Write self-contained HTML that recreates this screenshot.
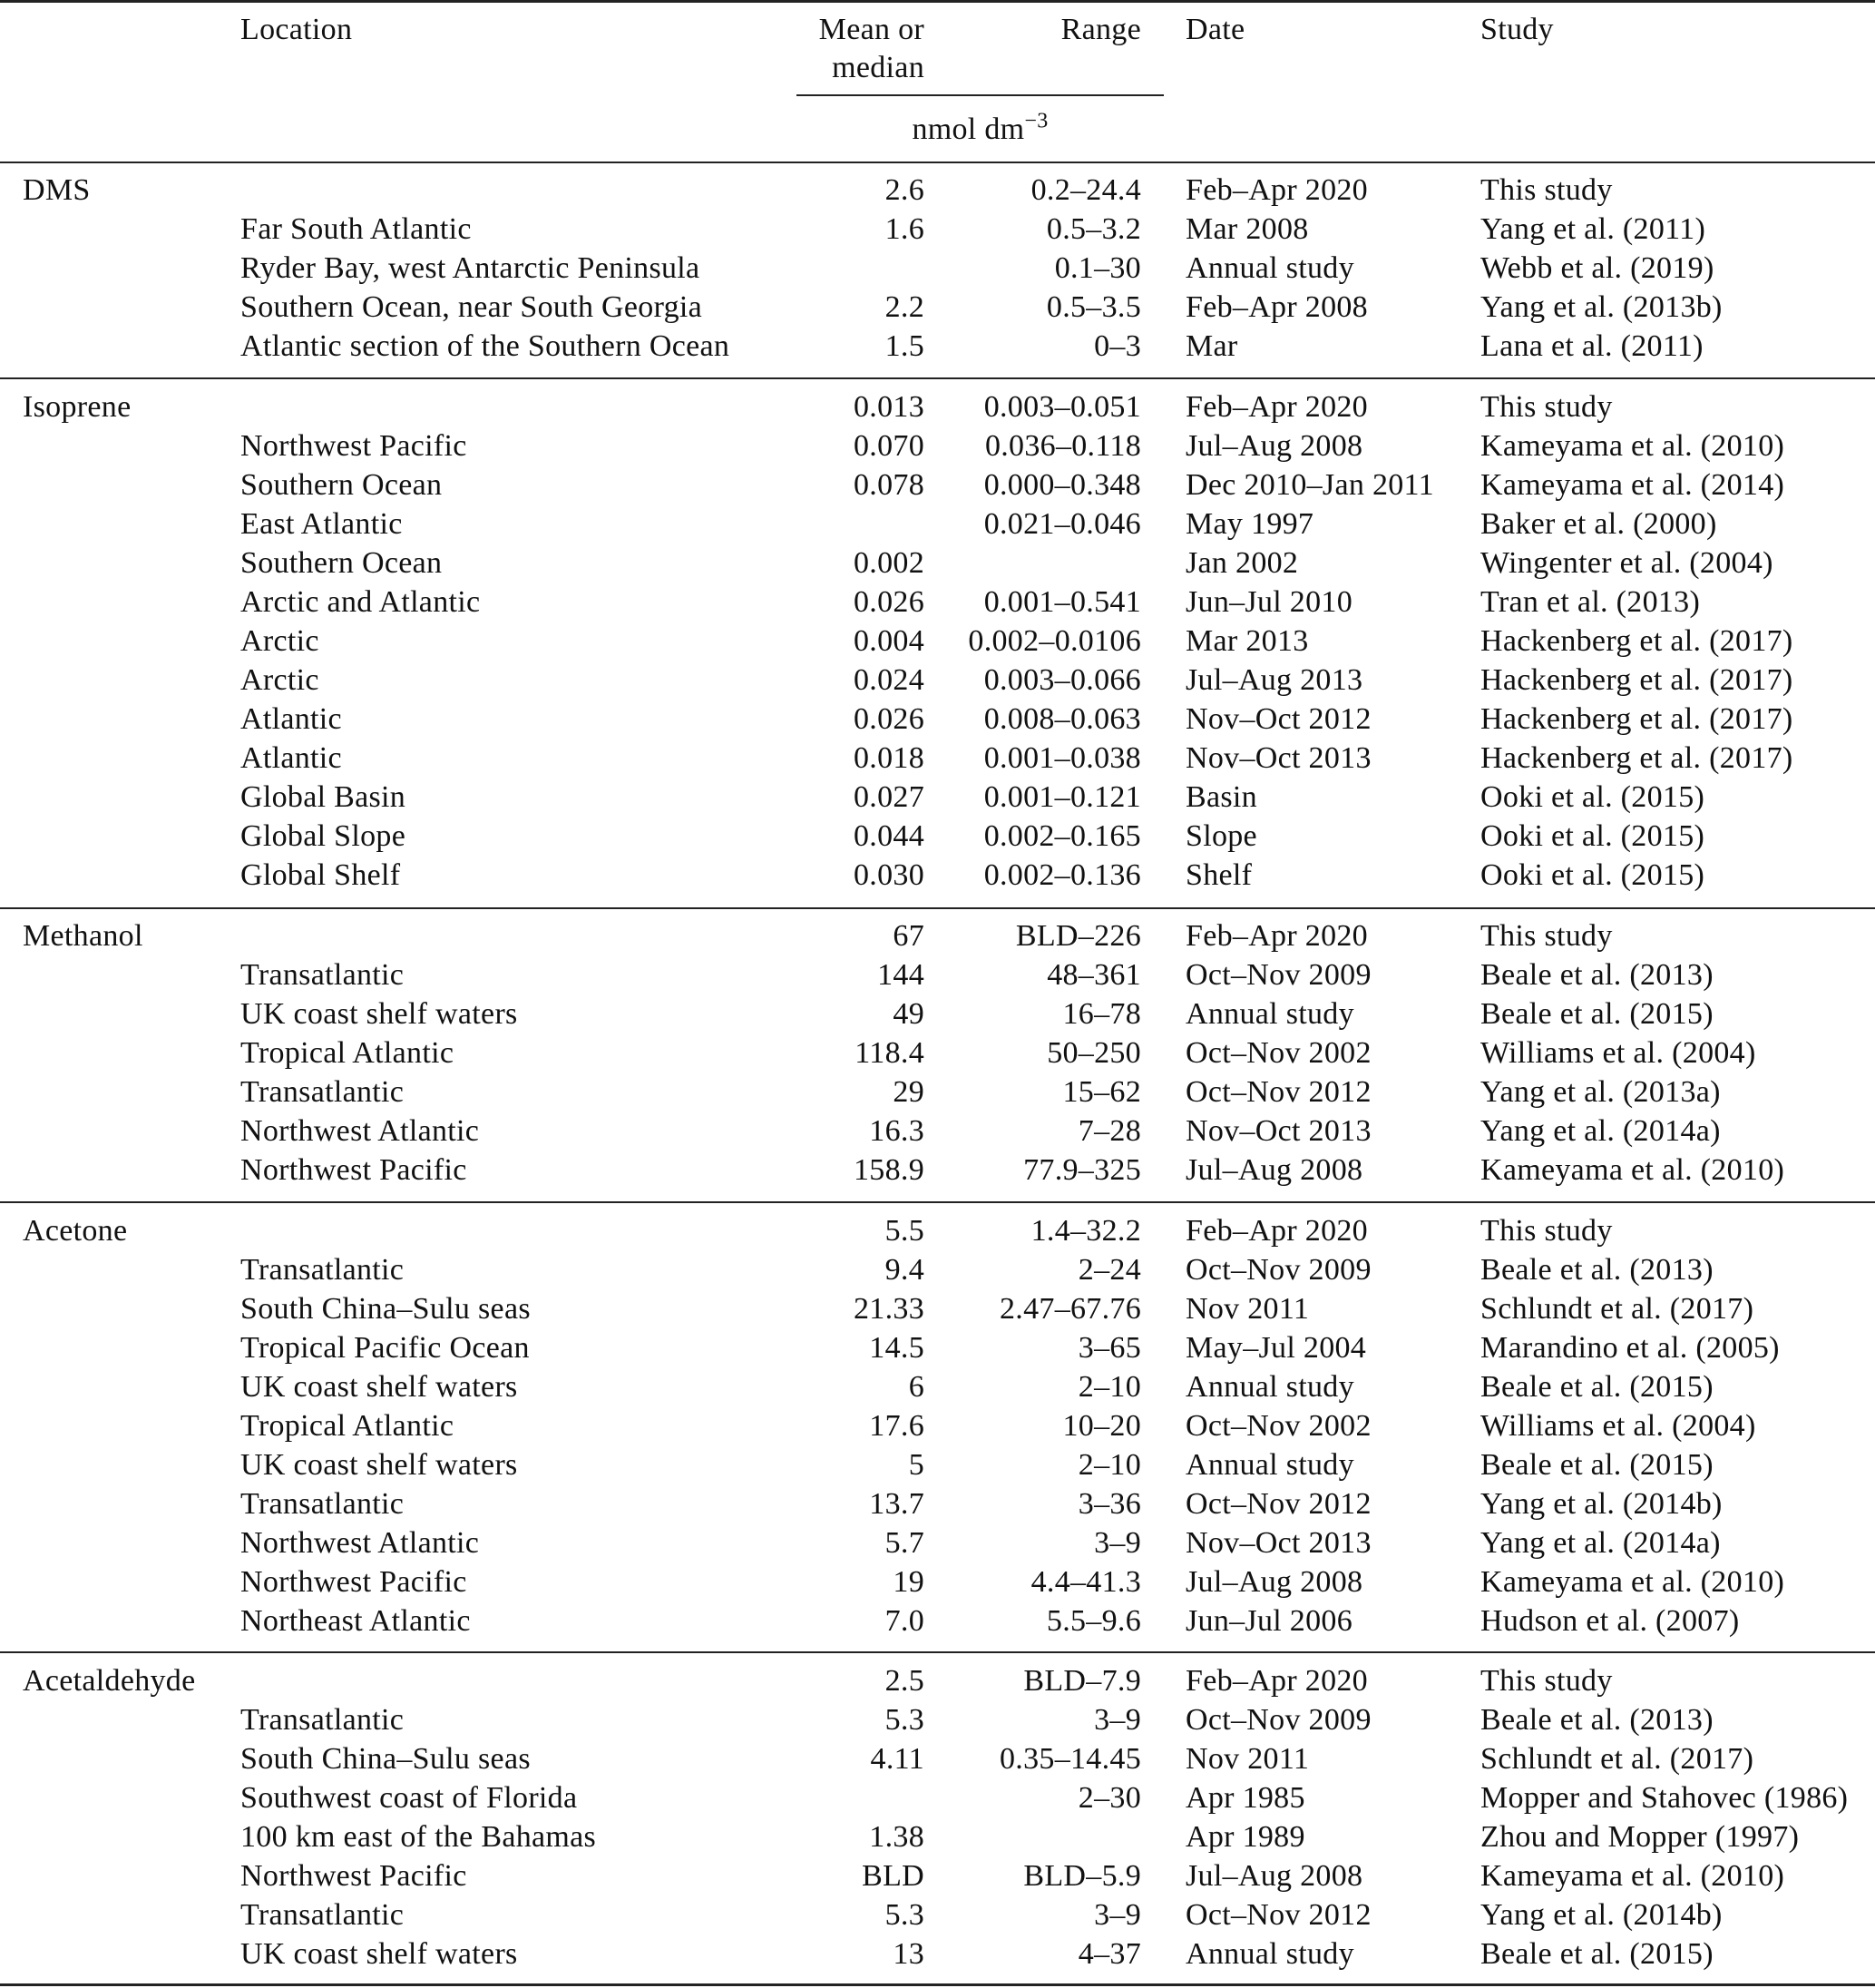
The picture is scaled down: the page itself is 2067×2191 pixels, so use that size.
<!DOCTYPE html>
<html><head><meta charset="utf-8"><style>
body{margin:0;background:#fff;}
#p{position:relative;width:2067px;height:2191px;font-family:"Liberation Serif",serif;font-size:34px;letter-spacing:0.3px;color:#111;}
.hl{position:absolute;left:0;width:2067px;background:#222;}
.sec{position:absolute;left:0;width:2067px;}
.r{position:relative;height:43px;line-height:43px;white-space:nowrap;}
.r span{position:absolute;top:0;}
.c{left:25px}.l{left:265px}
.m{right:1048px;text-align:right}
.g{right:809px;text-align:right}
.d{left:1307px}.s{left:1632px}
.h{position:absolute;line-height:43px;white-space:nowrap;}
</style></head><body><div id="p">
<div class="hl" style="top:0;height:3px"></div>
<div class="h" style="left:265px;top:11px">Location</div>
<div class="h" style="right:1048px;top:11px;text-align:right">Mean or</div>
<div class="h" style="right:1048px;top:53px;text-align:right">median</div>
<div class="h" style="right:809px;top:11px">Range</div>
<div class="h" style="left:1307px;top:11px">Date</div>
<div class="h" style="left:1632px;top:11px">Study</div>
<div class="hl" style="top:104px;left:878px;width:405px;height:2px"></div>
<div class="h" style="left:878px;width:405px;text-align:center;top:121px">nmol dm<sup style="font-size:24px;line-height:0">−3</sup></div>
<div class="hl" style="top:178px;height:2px"></div>

<div class="sec" style="top:188px">
<div class="r"><span class="c">DMS</span><span class="m">2.6</span><span class="g">0.2–24.4</span><span class="d">Feb–Apr 2020</span><span class="s">This study</span></div>
<div class="r"><span class="l">Far South Atlantic</span><span class="m">1.6</span><span class="g">0.5–3.2</span><span class="d">Mar 2008</span><span class="s">Yang et al. (2011)</span></div>
<div class="r"><span class="l">Ryder Bay, west Antarctic Peninsula</span><span class="g">0.1–30</span><span class="d">Annual study</span><span class="s">Webb et al. (2019)</span></div>
<div class="r"><span class="l">Southern Ocean, near South Georgia</span><span class="m">2.2</span><span class="g">0.5–3.5</span><span class="d">Feb–Apr 2008</span><span class="s">Yang et al. (2013b)</span></div>
<div class="r"><span class="l">Atlantic section of the Southern Ocean</span><span class="m">1.5</span><span class="g">0–3</span><span class="d">Mar</span><span class="s">Lana et al. (2011)</span></div>
</div>
<div class="hl" style="top:416px;height:2px"></div>

<div class="sec" style="top:427px">
<div class="r"><span class="c">Isoprene</span><span class="m">0.013</span><span class="g">0.003–0.051</span><span class="d">Feb–Apr 2020</span><span class="s">This study</span></div>
<div class="r"><span class="l">Northwest Pacific</span><span class="m">0.070</span><span class="g">0.036–0.118</span><span class="d">Jul–Aug 2008</span><span class="s">Kameyama et al. (2010)</span></div>
<div class="r"><span class="l">Southern Ocean</span><span class="m">0.078</span><span class="g">0.000–0.348</span><span class="d">Dec 2010–Jan 2011</span><span class="s">Kameyama et al. (2014)</span></div>
<div class="r"><span class="l">East Atlantic</span><span class="g">0.021–0.046</span><span class="d">May 1997</span><span class="s">Baker et al. (2000)</span></div>
<div class="r"><span class="l">Southern Ocean</span><span class="m">0.002</span><span class="d">Jan 2002</span><span class="s">Wingenter et al. (2004)</span></div>
<div class="r"><span class="l">Arctic and Atlantic</span><span class="m">0.026</span><span class="g">0.001–0.541</span><span class="d">Jun–Jul 2010</span><span class="s">Tran et al. (2013)</span></div>
<div class="r"><span class="l">Arctic</span><span class="m">0.004</span><span class="g">0.002–0.0106</span><span class="d">Mar 2013</span><span class="s">Hackenberg et al. (2017)</span></div>
<div class="r"><span class="l">Arctic</span><span class="m">0.024</span><span class="g">0.003–0.066</span><span class="d">Jul–Aug 2013</span><span class="s">Hackenberg et al. (2017)</span></div>
<div class="r"><span class="l">Atlantic</span><span class="m">0.026</span><span class="g">0.008–0.063</span><span class="d">Nov–Oct 2012</span><span class="s">Hackenberg et al. (2017)</span></div>
<div class="r"><span class="l">Atlantic</span><span class="m">0.018</span><span class="g">0.001–0.038</span><span class="d">Nov–Oct 2013</span><span class="s">Hackenberg et al. (2017)</span></div>
<div class="r"><span class="l">Global Basin</span><span class="m">0.027</span><span class="g">0.001–0.121</span><span class="d">Basin</span><span class="s">Ooki et al. (2015)</span></div>
<div class="r"><span class="l">Global Slope</span><span class="m">0.044</span><span class="g">0.002–0.165</span><span class="d">Slope</span><span class="s">Ooki et al. (2015)</span></div>
<div class="r"><span class="l">Global Shelf</span><span class="m">0.030</span><span class="g">0.002–0.136</span><span class="d">Shelf</span><span class="s">Ooki et al. (2015)</span></div>
</div>
<div class="hl" style="top:1000px;height:2px"></div>

<div class="sec" style="top:1010px">
<div class="r"><span class="c">Methanol</span><span class="m">67</span><span class="g">BLD–226</span><span class="d">Feb–Apr 2020</span><span class="s">This study</span></div>
<div class="r"><span class="l">Transatlantic</span><span class="m">144</span><span class="g">48–361</span><span class="d">Oct–Nov 2009</span><span class="s">Beale et al. (2013)</span></div>
<div class="r"><span class="l">UK coast shelf waters</span><span class="m">49</span><span class="g">16–78</span><span class="d">Annual study</span><span class="s">Beale et al. (2015)</span></div>
<div class="r"><span class="l">Tropical Atlantic</span><span class="m">118.4</span><span class="g">50–250</span><span class="d">Oct–Nov 2002</span><span class="s">Williams et al. (2004)</span></div>
<div class="r"><span class="l">Transatlantic</span><span class="m">29</span><span class="g">15–62</span><span class="d">Oct–Nov 2012</span><span class="s">Yang et al. (2013a)</span></div>
<div class="r"><span class="l">Northwest Atlantic</span><span class="m">16.3</span><span class="g">7–28</span><span class="d">Nov–Oct 2013</span><span class="s">Yang et al. (2014a)</span></div>
<div class="r"><span class="l">Northwest Pacific</span><span class="m">158.9</span><span class="g">77.9–325</span><span class="d">Jul–Aug 2008</span><span class="s">Kameyama et al. (2010)</span></div>
</div>
<div class="hl" style="top:1324px;height:2px"></div>

<div class="sec" style="top:1335px">
<div class="r"><span class="c">Acetone</span><span class="m">5.5</span><span class="g">1.4–32.2</span><span class="d">Feb–Apr 2020</span><span class="s">This study</span></div>
<div class="r"><span class="l">Transatlantic</span><span class="m">9.4</span><span class="g">2–24</span><span class="d">Oct–Nov 2009</span><span class="s">Beale et al. (2013)</span></div>
<div class="r"><span class="l">South China–Sulu seas</span><span class="m">21.33</span><span class="g">2.47–67.76</span><span class="d">Nov 2011</span><span class="s">Schlundt et al. (2017)</span></div>
<div class="r"><span class="l">Tropical Pacific Ocean</span><span class="m">14.5</span><span class="g">3–65</span><span class="d">May–Jul 2004</span><span class="s">Marandino et al. (2005)</span></div>
<div class="r"><span class="l">UK coast shelf waters</span><span class="m">6</span><span class="g">2–10</span><span class="d">Annual study</span><span class="s">Beale et al. (2015)</span></div>
<div class="r"><span class="l">Tropical Atlantic</span><span class="m">17.6</span><span class="g">10–20</span><span class="d">Oct–Nov 2002</span><span class="s">Williams et al. (2004)</span></div>
<div class="r"><span class="l">UK coast shelf waters</span><span class="m">5</span><span class="g">2–10</span><span class="d">Annual study</span><span class="s">Beale et al. (2015)</span></div>
<div class="r"><span class="l">Transatlantic</span><span class="m">13.7</span><span class="g">3–36</span><span class="d">Oct–Nov 2012</span><span class="s">Yang et al. (2014b)</span></div>
<div class="r"><span class="l">Northwest Atlantic</span><span class="m">5.7</span><span class="g">3–9</span><span class="d">Nov–Oct 2013</span><span class="s">Yang et al. (2014a)</span></div>
<div class="r"><span class="l">Northwest Pacific</span><span class="m">19</span><span class="g">4.4–41.3</span><span class="d">Jul–Aug 2008</span><span class="s">Kameyama et al. (2010)</span></div>
<div class="r"><span class="l">Northeast Atlantic</span><span class="m">7.0</span><span class="g">5.5–9.6</span><span class="d">Jun–Jul 2006</span><span class="s">Hudson et al. (2007)</span></div>
</div>
<div class="hl" style="top:1820px;height:2px"></div>

<div class="sec" style="top:1831px">
<div class="r"><span class="c">Acetaldehyde</span><span class="m">2.5</span><span class="g">BLD–7.9</span><span class="d">Feb–Apr 2020</span><span class="s">This study</span></div>
<div class="r"><span class="l">Transatlantic</span><span class="m">5.3</span><span class="g">3–9</span><span class="d">Oct–Nov 2009</span><span class="s">Beale et al. (2013)</span></div>
<div class="r"><span class="l">South China–Sulu seas</span><span class="m">4.11</span><span class="g">0.35–14.45</span><span class="d">Nov 2011</span><span class="s">Schlundt et al. (2017)</span></div>
<div class="r"><span class="l">Southwest coast of Florida</span><span class="g">2–30</span><span class="d">Apr 1985</span><span class="s">Mopper and Stahovec (1986)</span></div>
<div class="r"><span class="l">100 km east of the Bahamas</span><span class="m">1.38</span><span class="d">Apr 1989</span><span class="s">Zhou and Mopper (1997)</span></div>
<div class="r"><span class="l">Northwest Pacific</span><span class="m">BLD</span><span class="g">BLD–5.9</span><span class="d">Jul–Aug 2008</span><span class="s">Kameyama et al. (2010)</span></div>
<div class="r"><span class="l">Transatlantic</span><span class="m">5.3</span><span class="g">3–9</span><span class="d">Oct–Nov 2012</span><span class="s">Yang et al. (2014b)</span></div>
<div class="r"><span class="l">UK coast shelf waters</span><span class="m">13</span><span class="g">4–37</span><span class="d">Annual study</span><span class="s">Beale et al. (2015)</span></div>
</div>
<div class="hl" style="top:2186px;height:3px"></div>
</div></body></html>
